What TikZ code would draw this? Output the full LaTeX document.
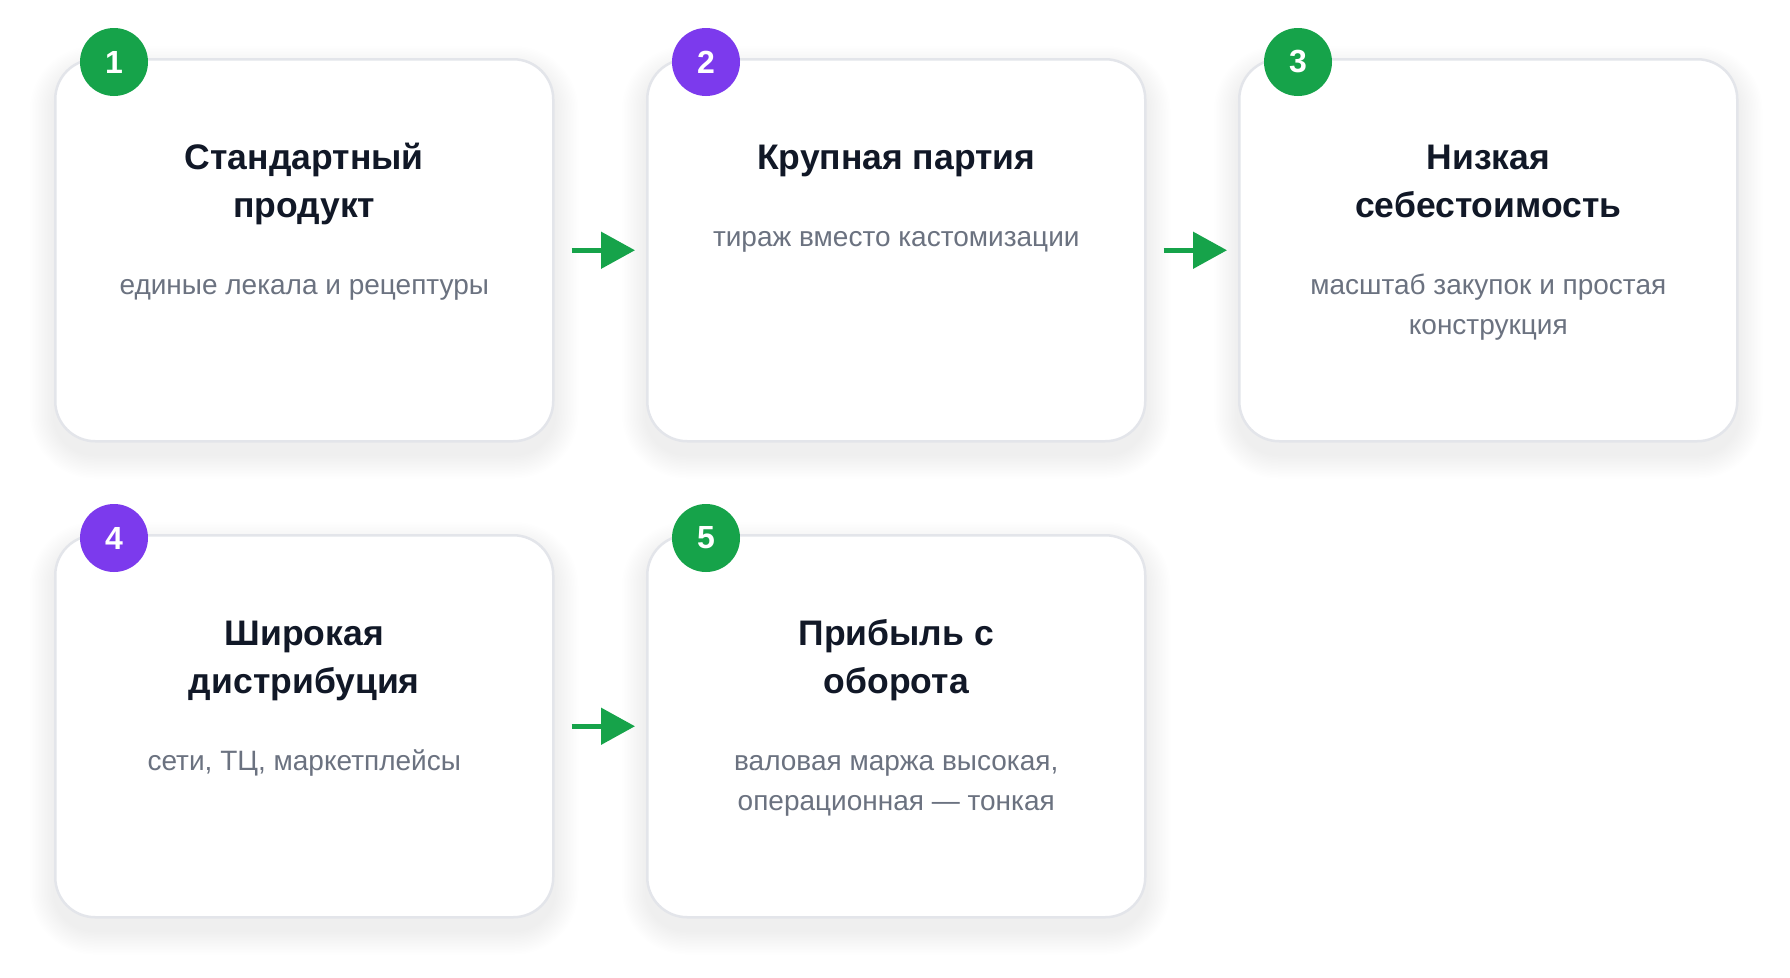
\documentclass[tikz,border=0pt]{standalone}
\usepackage{fontspec}
\setmainfont{Liberation Sans}
\usetikzlibrary{arrows.meta,calc}
\definecolor{cgreen}{HTML}{16A34A}
\definecolor{cpurple}{HTML}{7C3AED}
\definecolor{ctitle}{HTML}{111827}
\definecolor{csub}{HTML}{6B7280}
\definecolor{cborder}{HTML}{E3E5EA}
\definecolor{cshadow}{HTML}{5A6488}
\pgfdeclarelayer{bg}
\pgfsetlayers{bg,main}
\newcommand{\mycardshadow}[1]{%
  \begin{pgfonlayer}{bg}
  \foreach \i [evaluate=\i as \s using 1.5*\i, evaluate=\i as \r using 40+1.5*\i] in {1,...,16}{
    \fill[cshadow, opacity=0.004, rounded corners=\r pt]
      ($(#1.north west)+(-\s,12-\s)$) rectangle ($(#1.south east)+(\s,12+\s)$);
  }
  \end{pgfonlayer}}
\begin{document}
\begin{tikzpicture}[x=1pt,y=-1pt,
  card/.style={draw=cborder, line width=2.5pt, fill=white, rounded corners=40pt,
    minimum width=498pt, minimum height=382pt, anchor=north west, inner sep=0pt},
  badge/.style={circle, minimum size=68pt, inner sep=0pt, text=white,
    font=\fontsize{32}{32}\selectfont\bfseries},
  ttl/.style={anchor=base, inner sep=0pt, text=ctitle, font=\fontsize{35.5}{40}\selectfont\bfseries},
  sub/.style={anchor=base, inner sep=0pt, text=csub, font=\fontsize{28}{32}\selectfont},
  arr/.style={draw=cgreen, line width=5pt, -{Triangle[length=34pt,width=36pt]},
    shorten <=17pt, shorten >=11pt}
]
\useasboundingbox (0,0) rectangle (1790,977);
\begin{pgfonlayer}{bg}
\fill[white] (0,0) rectangle (1790,977);
\end{pgfonlayer}

% cards
\node[card] (c1) at (54,58) {};
\node[card] (c2) at (646,58) {};
\node[card] (c3) at (1238,58) {};
\node[card] (c4) at (54,534) {};
\node[card] (c5) at (646,534) {};
\mycardshadow{c1}\mycardshadow{c2}\mycardshadow{c3}\mycardshadow{c4}\mycardshadow{c5}

% badges
\node[badge, fill=cgreen]  (b1) at ($(c1.north west)+(60,4)$) {1};
\node[badge, fill=cpurple] (b2) at ($(c2.north west)+(60,4)$) {2};
\node[badge, fill=cgreen]  (b3) at ($(c3.north west)+(60,4)$) {3};
\node[badge, fill=cpurple] (b4) at ($(c4.north west)+(60,4)$) {4};
\node[badge, fill=cgreen]  (b5) at ($(c5.north west)+(60,4)$) {5};

% card 1
\node[ttl] (t1a) at ($(c1.north)+(0,111)$) {Стандартный};
\node[ttl] (t1b) at ($(c1.north)+(0,159)$) {продукт};
\node[sub] (s1a) at ($(c1.north)+(0,236)$) {единые лекала и рецептуры};

% card 2
\node[ttl] (t2a) at ($(c2.north)+(0,111)$) {Крупная партия};
\node[sub] (s2a) at ($(c2.north)+(0,188)$) {тираж вместо кастомизации};

% card 3
\node[ttl] (t3a) at ($(c3.north)+(0,111)$) {Низкая};
\node[ttl] (t3b) at ($(c3.north)+(0,159)$) {себестоимость};
\node[sub] (s3a) at ($(c3.north)+(0,236)$) {масштаб закупок и простая};
\node[sub] (s3b) at ($(c3.north)+(0,276)$) {конструкция};

% card 4
\node[ttl] (t4a) at ($(c4.north)+(0,111)$) {Широкая};
\node[ttl] (t4b) at ($(c4.north)+(0,159)$) {дистрибуция};
\node[sub] (s4a) at ($(c4.north)+(0,236)$) {сети, ТЦ, маркетплейсы};

% card 5
\node[ttl] (t5a) at ($(c5.north)+(0,111)$) {Прибыль с};
\node[ttl] (t5b) at ($(c5.north)+(0,159)$) {оборота};
\node[sub] (s5a) at ($(c5.north)+(0,236)$) {валовая маржа высокая,};
\node[sub] (s5b) at ($(c5.north)+(0,276)$) {операционная — тонкая};

% arrows
\draw[arr] (c1.east) -- (c2.west);
\draw[arr] (c2.east) -- (c3.west);
\draw[arr] (c4.east) -- (c5.west);
\end{tikzpicture}
\end{document}
